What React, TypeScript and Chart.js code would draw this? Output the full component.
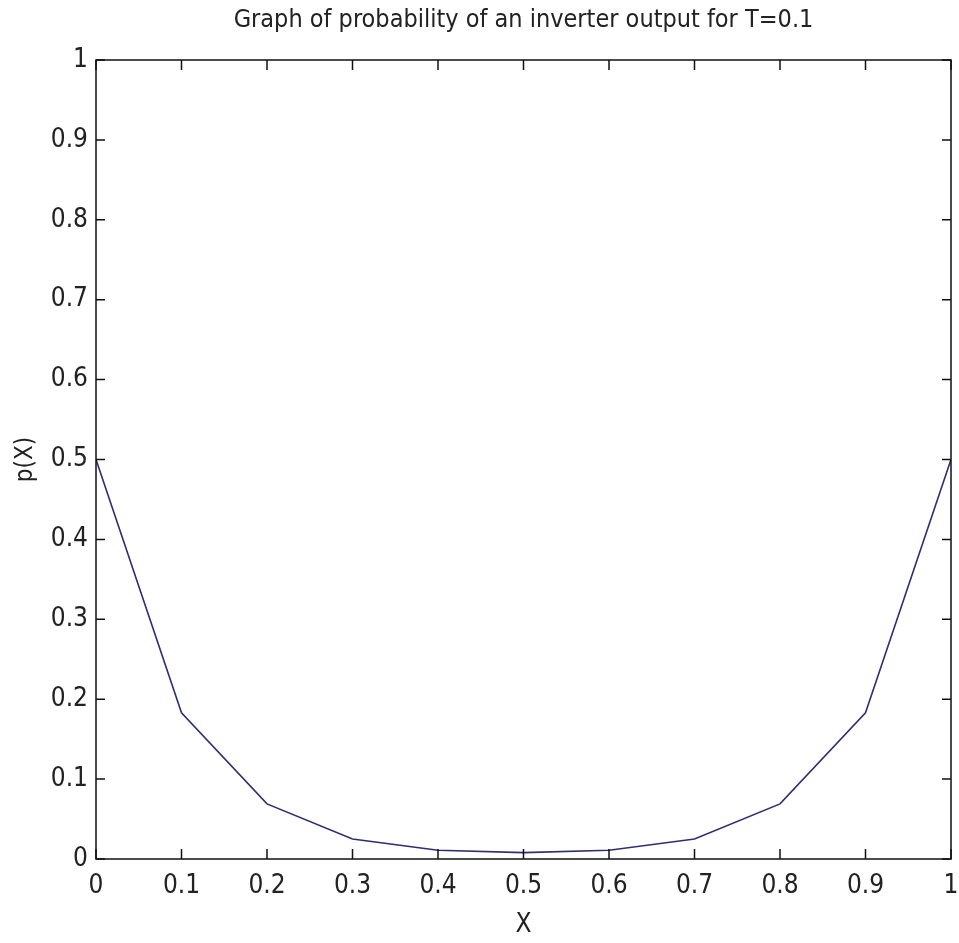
import React, { useEffect, useRef } from "react";
import { Chart, registerables } from "chart.js";

Chart.register(...registerables);

const xValues = [0, 0.1, 0.2, 0.3, 0.4, 0.5, 0.6, 0.7, 0.8, 0.9, 1];
const pValues = [0.5, 0.183, 0.069, 0.025, 0.011, 0.008, 0.011, 0.025, 0.069, 0.183, 0.5];
const titleText = "Graph of probability of an inverter output for T=0.1";
const xTitle = "X";
const yTitle = "p(X)";

const FONT = "'Liberation Sans Narrow', 'DejaVu Sans Condensed', 'Liberation Sans', sans-serif";

const fmt = (v: number) => {
  const r = Math.round(v * 10) / 10;
  return r === 0 ? "0" : r === 1 ? "1" : r.toFixed(1);
};

const boxPlugin = {
  id: "matlabBox",
  afterDraw(chart: any) {
    const { ctx, chartArea: a, scales } = chart;
    ctx.save();
    ctx.strokeStyle = "#111";
    ctx.lineWidth = 1.5;
    ctx.strokeRect(a.left, a.top, a.right - a.left, a.bottom - a.top);
    const tl = 10;
    ctx.beginPath();
    scales.x.ticks.forEach((t: any) => {
      const px = scales.x.getPixelForValue(t.value);
      ctx.moveTo(px, a.bottom);
      ctx.lineTo(px, a.bottom - tl);
      ctx.moveTo(px, a.top);
      ctx.lineTo(px, a.top + tl);
    });
    scales.y.ticks.forEach((t: any) => {
      const py = scales.y.getPixelForValue(t.value);
      ctx.moveTo(a.left, py);
      ctx.lineTo(a.left + tl - 1, py);
      ctx.moveTo(a.right, py);
      ctx.lineTo(a.right - tl + 1, py);
    });
    ctx.stroke();
    ctx.restore();
  },
};

export default function App() {
  const ref = useRef<HTMLCanvasElement | null>(null);
  useEffect(() => {
    document.body.style.margin = "0";
    document.body.style.overflow = "hidden";
    const canvas = ref.current!;
    const chart = new Chart(canvas, {
      type: "line",
      data: {
        datasets: [
          {
            data: xValues.map((x, i) => ({ x, y: pValues[i] })),
            borderColor: "#2e2e72",
            borderWidth: 1.6,
            pointRadius: 0,
            tension: 0,
            fill: false,
          },
        ],
      },
      options: {
        animation: false,
        responsive: false,
        maintainAspectRatio: false,
        layout: { padding: { left: 0, right: 8, top: 0, bottom: 0 } },
        plugins: {
          legend: { display: false },
          tooltip: { enabled: false },
          title: {
            display: true,
            fullSize: false,
            text: titleText,
            color: "#222",
            font: { family: FONT, size: 25, weight: "normal", lineHeight: 1.2 },
            padding: { top: 5, bottom: 25 },
          },
        },
        scales: {
          x: {
            type: "linear",
            min: 0,
            max: 1,
            grid: { display: false, drawTicks: false },
            border: { display: false },
            ticks: {
              stepSize: 0.1,
              color: "#222",
              padding: 12,
              maxRotation: 0,
              autoSkip: false,
              font: { family: FONT, size: 26 },
              callback: (v: any) => fmt(Number(v)),
            },
            title: {
              display: true,
              text: xTitle,
              color: "#222",
              font: { family: FONT, size: 26, lineHeight: 1.2 },
              padding: { top: 0, bottom: 2 },
            },
            afterFit: (s: any) => {
              s.height = 84;
              s.paddingLeft = 0;
              s.paddingRight = 0;
            },
          },
          y: {
            type: "linear",
            min: 0,
            max: 1,
            grid: { display: false, drawTicks: false },
            border: { display: false },
            ticks: {
              stepSize: 0.1,
              color: "#222",
              padding: 8,
              autoSkip: false,
              font: { family: FONT, size: 26 },
              callback: (v: any) => fmt(Number(v)),
            },
            title: {
              display: true,
              text: yTitle,
              color: "#222",
              font: { family: FONT, size: 24, lineHeight: 1.2 },
              padding: { top: 11, bottom: 0 },
            },
            afterFit: (s: any) => {
              s.width = 96;
              s.paddingTop = 0;
              s.paddingBottom = 0;
            },
          },
        },
      },
      plugins: [boxPlugin],
    });
    return () => chart.destroy();
  }, []);
  return (
    <div style={{ width: 959, height: 943, background: "#fff" }}>
      <canvas ref={ref} width={959} height={943} style={{ display: "block" }} />
    </div>
  );
}
